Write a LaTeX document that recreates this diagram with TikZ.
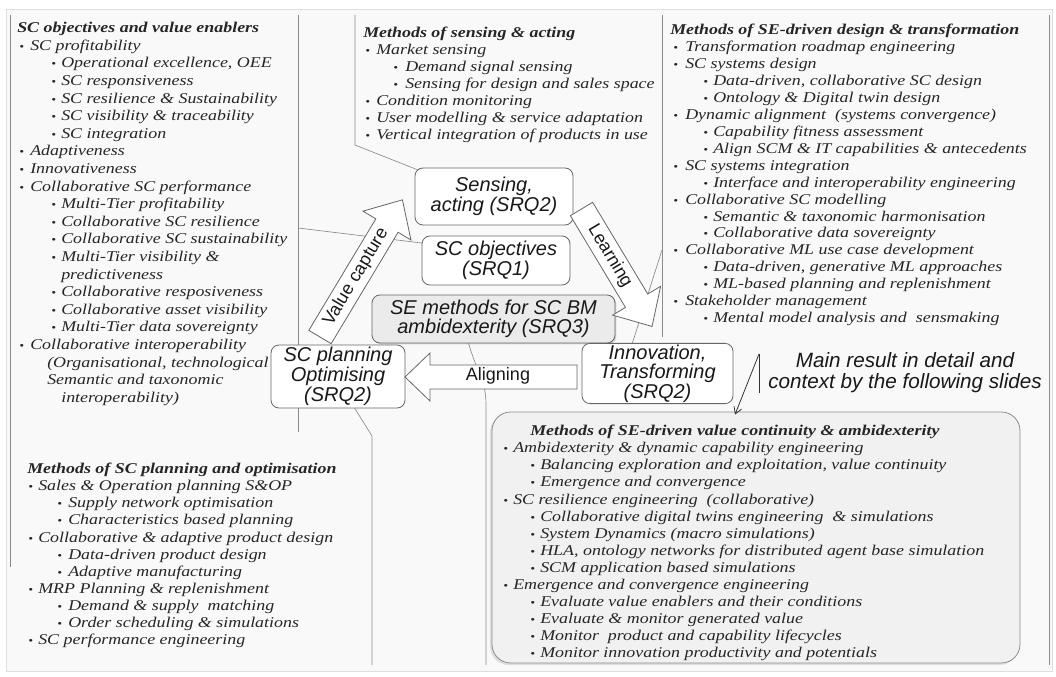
\documentclass[tikz,border=0pt]{standalone}
\usepackage{fontspec}
\setmainfont{Liberation Serif}[FakeStretch=1.2]
\newfontfamily\arialfont{Liberation Sans}
\usetikzlibrary{calc,arrows.meta,shadows,backgrounds}
% one drawing unit = one pixel of a 1056 x 677 canvas
\newdimen\pxu \pxu=0.75pt
\newdimen\bA \newdimen\tA \newdimen\bB \newdimen\tB
% bullet and text indents of the two list levels
\newcommand\setind[4]{\global\bA=#1\pxu\global\tA=#2\pxu\global\bB=#3\pxu\global\tB=#4\pxu}
\newcommand\blt{\scalebox{0.75}{\textbullet}}
\newcommand\itA[1]{\\\hspace*{\bA}\makebox[\dimexpr\tA-\bA\relax][l]{\blt}#1}
\newcommand\itB[1]{\\\hspace*{\bB}\makebox[\dimexpr\tB-\bB\relax][l]{\blt}#1}
\newcommand\itC[2]{\\\hspace*{#1\pxu}#2}
% outline of a block arrow along the local x axis: length, head length, shaft half width, head half width
\newcommand\fatpath[4]{(0,-#3) -- (#1-#2,-#3) -- (#1-#2,-#4) -- (#1,0) -- (#1-#2,#4) -- (#1-#2,#3) -- (0,#3) -- cycle}
\begin{document}
\begin{tikzpicture}[x=0.75pt,y=-0.75pt,
  panel/.style={anchor=north west, align=left, inner sep=0pt, text=black!85},
  sepline/.style={draw=black!45, line width=0.5pt},
  srq/.style={draw=black!60, line width=0.6pt, fill=white, rounded corners=6pt,
    align=center, inner sep=1pt, text=black!90,
    font=\arialfont\itshape\fontsize{15}{14.6}\selectfont},
  fat/.style={draw=black!60, line width=0.6pt, fill=white},
  fatlabel/.style={inner sep=0pt, text=black!90, font=\arialfont\fontsize{13.5}{14}\selectfont},
]
\useasboundingbox (0,0) rectangle (1056,677);
\begin{scope}[on background layer]
\fill[white] (0,0) rectangle (1056,677);
\filldraw[fill=gray!5, draw=gray!25] (6,9) rectangle (1052,671);
\end{scope}

% panel separators
\coordinate (lp) at (298,228);
\coordinate (rp) at (662,250);
\draw[sepline] (10,15) -- (10,567);
\draw[sepline] (298,15) -- (298,432);
\draw[sepline] (662,15) -- (662,337);
\draw[sepline] (1049,15) -- (1049,665);
\draw[sepline] (372,665) -- (372,436) -- (352,404);

% list panels
\setind{2}{13}{34}{44}
\node[panel, font=\itshape\fontsize{11.2}{13.2}\selectfont] (objlist) at (17,22) {%
\textbf{SC objectives and value enablers}
\itA{SC profitability}
\itB{Operational excellence, OEE}
\itB{SC responsiveness}
\itB{SC resilience \& Sustainability}
\itB{SC visibility \& traceability}
\itB{SC integration}
\itA{Adaptiveness}
\itA{Innovativeness}
\itA{Collaborative SC performance}
\itB{Multi-Tier profitability}
\itB{Collaborative SC resilience}
\itB{Collaborative SC sustainability}
\itB{Multi-Tier visibility \&}
\itC{44}{predictiveness}
\itB{Collaborative resposiveness}
\itB{Collaborative asset visibility}
\itB{Multi-Tier data sovereignty}
\itA{Collaborative interoperability}
\itC{30}{(Organisational, technological}
\itC{30}{Semantic and taxonomic}
\itC{44}{interoperability)}};

\setind{2}{13}{30}{42}
\node[panel, font=\itshape\fontsize{11.2}{12.7}\selectfont] (senslist) at (363,27) {%
\textbf{Methods of sensing \& acting}
\itA{Market sensing}
\itB{Demand signal sensing}
\itB{Sensing for design and sales space}
\itA{Condition monitoring}
\itA{User modelling \& service adaptation}
\itA{Vertical integration of products in use}};

\setind{3}{15}{33}{43}
\node[panel, font=\itshape\fontsize{11.2}{12.7}\selectfont] (designlist) at (670,24) {%
\textbf{Methods of SE-driven design \& transformation}
\itA{Transformation roadmap engineering}
\itA{SC systems design}
\itB{Data-driven, collaborative SC design}
\itB{Ontology \& Digital twin design}
\itA{Dynamic alignment\ \ (systems convergence)}
\itB{Capability fitness assessment}
\itB{Align SCM \& IT capabilities \& antecedents}
\itA{SC systems integration}
\itB{Interface and interoperability engineering}
\itA{Collaborative SC modelling}
\itB{Semantic \& taxonomic harmonisation}
\itB{Collaborative data sovereignty}
\itA{Collaborative ML use case development}
\itB{Data-driven, generative ML approaches}
\itB{ML-based planning and replenishment}
\itA{Stakeholder management}
\itB{Mental model analysis and\ \ sensmaking}};

\setind{1}{11}{30}{41}
\node[panel, font=\itshape\fontsize{11.2}{12.8}\selectfont] (planlist) at (27,463) {%
\textbf{Methods of SC planning and optimisation}
\itA{Sales \& Operation planning S\&OP}
\itB{Supply network optimisation}
\itB{Characteristics based planning}
\itA{Collaborative \& adaptive product design}
\itB{Data-driven product design}
\itB{Adaptive manufacturing}
\itA{MRP Planning \& replenishment}
\itB{Demand \& supply\ \ matching}
\itB{Order scheduling \& simulations}
\itA{SC performance engineering}};

% central research question boxes
\node[srq, minimum width=158*0.75pt, minimum height=57*0.75pt] (sens) at (494,196.5) {Sensing,\\acting (SRQ2)};
\node[srq, minimum width=148*0.75pt, minimum height=49*0.75pt] (obj) at (496,260.5) {SC objectives\\(SRQ1)};
\node[srq, fill=gray!16, drop shadow={opacity=0.3, shadow xshift=1pt, shadow yshift=-1pt},
  minimum width=243*0.75pt, minimum height=48*0.75pt] (sem) at (493.5,319) {SE methods for SC BM\\ambidexterity (SRQ3)};
\node[srq, minimum width=134*0.75pt, minimum height=63*0.75pt,
  font=\arialfont\itshape\fontsize{15}{13.4}\selectfont] (plan) at (338,376.5) {SC planning\\Optimising\\(SRQ2)};
\node[srq, minimum width=151*0.75pt, minimum height=59*0.75pt] (inno) at (657.5,373.5) {Innovation,\\Transforming\\(SRQ2)};

% callout lines running behind the boxes and block arrows
\begin{scope}[on background layer]
\draw[sepline] (355,15) -- (355,145) -- ($(sens.north west)+(5,3)$);
\draw[sepline] (lp) -- ($(obj.north west)+(5,8)$);
\draw[sepline] (rp) -- ($(inno.north)+(-27,6)$);
\draw[sepline] ($(sem.south)+(-26,-4)$) .. controls (476,372) and (486,378) .. (486,405) -- (486,665);
\end{scope}

% block arrows
\begin{scope}[shift={(320,337)}, rotate=59]
  \draw[fat] \fatpath{160}{30}{13}{28};
  \node[fatlabel, transform shape] (vcap) at (70,0) {Value capture};
\end{scope}
\begin{scope}[shift={(581.5,209)}, rotate=-59]
  \draw[fat] \fatpath{137}{30}{13}{28};
  \node[fatlabel, transform shape] (learn) at (55,0) {Learning};
\end{scope}
\begin{scope}[shift={(577,377)}, rotate=180]
  \draw[fat] \fatpath{172}{25}{12}{24};
\end{scope}
\node[fatlabel] (align) at (498,376) {Aligning};

% value continuity and ambidexterity panel
\node[draw=black!45, fill=gray!11, line width=0.6pt, rounded corners=14pt,
  minimum width=528*0.75pt, minimum height=251*0.75pt, inner sep=0pt,
  drop shadow={opacity=0.22, shadow xshift=-1.5pt, shadow yshift=-1.5pt}] (cont) at (756,537.5) {};
\setind{0}{10}{27}{37}
\node[panel, font=\itshape\fontsize{11.2}{12.8}\selectfont] (contlist) at (503,425) {%
\hspace*{27\pxu}\textbf{Methods of SE-driven value continuity \& ambidexterity}
\itA{Ambidexterity \& dynamic capability engineering}
\itB{Balancing exploration and exploitation, value continuity}
\itB{Emergence and convergence}
\itA{SC resilience engineering\ \ (collaborative)}
\itB{Collaborative digital twins engineering\ \ \& simulations}
\itB{System Dynamics (macro simulations)}
\itB{HLA, ontology networks for distributed agent base simulation}
\itB{SCM application based simulations}
\itA{Emergence and convergence engineering}
\itB{Evaluate value enablers and their conditions}
\itB{Evaluate \& monitor generated value}
\itB{Monitor\ \ product and capability lifecycles}
\itB{Monitor innovation productivity and potentials}};

% pointer to the detailed result
\node[inner sep=0pt, align=center, text=black!90,
  font=\arialfont\itshape\fontsize{15.5}{15.8}\selectfont] (mres) at (905,372.5)
  {Main result in detail and\\context by the following slides};
\coordinate (mrtop) at (759,354);
\coordinate (mrbar) at (759,393);
\draw[black!80, line width=0.6pt] (mrtop) -- (mrbar);
\draw[black!80, line width=0.6pt, -{Straight Barb[length=5pt,width=6pt]}] (mrtop) -- ($(cont.north)+(-21,3)$);
\end{tikzpicture}
\end{document}
